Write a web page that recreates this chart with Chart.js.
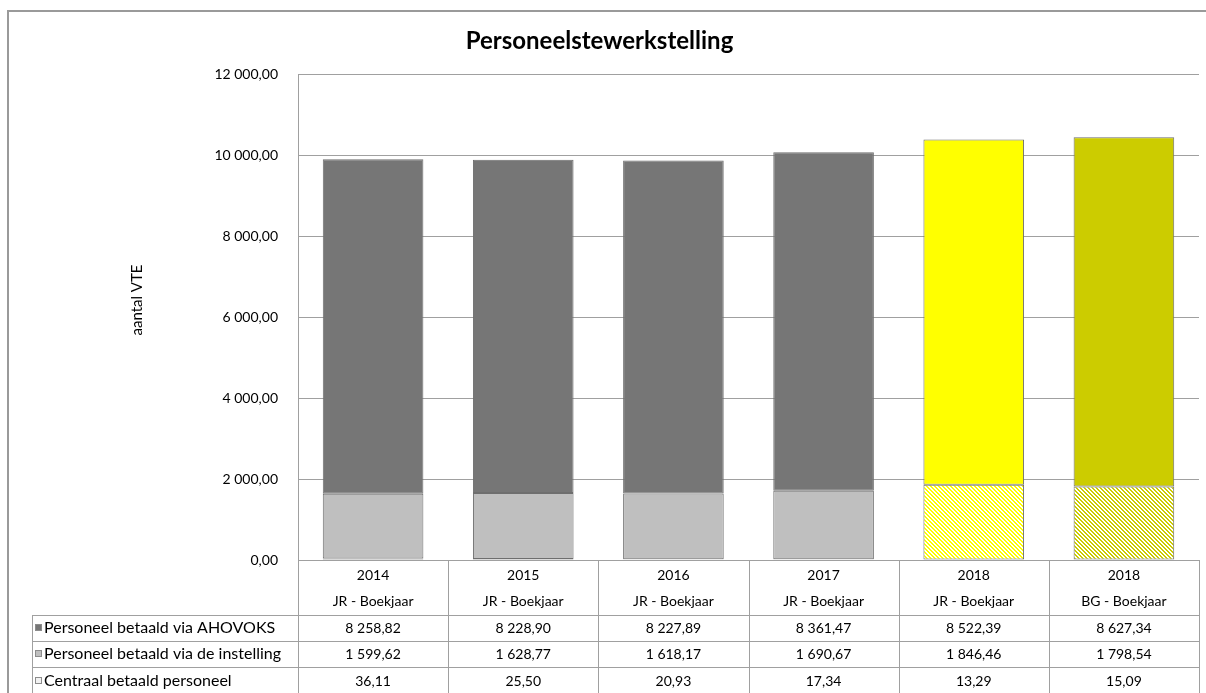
<!DOCTYPE html>
<html>
<head>
<meta charset="utf-8">
<script src="https://cdn.jsdelivr.net/npm/chart.js@4.4.1/dist/chart.umd.min.js"></script>
<style>
    html, body { margin: 0; padding: 0; background: #fff; }
    #wrap { width: 1206px; height: 693px; position: relative; }
</style>
</head>
<body>
<div id="wrap"><canvas id="chart" width="1206" height="693"></canvas></div>
<script>
// 数据
const years = ['2014', '2015', '2016', '2017', '2018', '2018'];
const boekjaren = ['JR - Boekjaar', 'JR - Boekjaar', 'JR - Boekjaar', 'JR - Boekjaar', 'JR - Boekjaar', 'BG - Boekjaar'];
const seriesNames = ['Personeel betaald via AHOVOKS', 'Personeel betaald via de instelling', 'Centraal betaald personeel'];
const ahovoks = [8258.82, 8228.90, 8227.89, 8361.47, 8522.39, 8627.34];
const instelling = [1599.62, 1628.77, 1618.17, 1690.67, 1846.46, 1798.54];
const centraal = [36.11, 25.50, 20.93, 17.34, 13.29, 15.09];
const yTicks = [0, 2000, 4000, 6000, 8000, 10000, 12000];

const FONT = 'Lato';
const LINE = '#A0A0A0';

// 格式化数字 (8 258,82)
function fmt(v) {
    const parts = v.toFixed(2).split('.');
    return parts[0].replace(/\B(?=(\d{3})+(?!\d))/g, ' ') + ',' + parts[1];
}

const canvas = document.getElementById('chart');
const mainCtx = canvas.getContext('2d');

// 斜线填充
function hatch(color) {
    const c = document.createElement('canvas');
    c.width = 4; c.height = 4;
    const g = c.getContext('2d');
    g.fillStyle = '#fff';
    g.fillRect(0, 0, 4, 4);
    g.fillStyle = color;
    for (let y = 0; y < 4; y++) {
        for (let x = 0; x < 4; x++) {
            if ((((x - y) % 4) + 4) % 4 < 2) g.fillRect(x, y, 1, 1);
        }
    }
    return mainCtx.createPattern(c, 'repeat');
}

const ahovoksColors = ['#767676', '#767676', '#767676', '#767676', '#FFFF00', '#CCCC00'];
const instellingColors = ['#BFBFBF', '#BFBFBF', '#BFBFBF', '#BFBFBF', hatch('#FFFF00'), hatch('#CCCC00')];
const centraalColors = ['#F2F2F2', '#F2F2F2', '#F2F2F2', '#F2F2F2', '#FFFFCC', '#F0F0B0'];
const legendColors = ['#767676', '#BFBFBF', '#F2F2F2'];

// 表格、轴标题和外框
const tablePlugin = {
    id: 'dataTable',
    afterDraw(chart) {
        const ctx = chart.ctx;
        const area = chart.chartArea;
        const colW = (area.right - area.left) / years.length;
        const top = area.bottom;
        const rowLines = [615, 641, 667];
        const rowText = [628, 654, 681];
        const rows = [ahovoks, instelling, centraal];

        ctx.save();
        ctx.strokeStyle = LINE;
        ctx.lineWidth = 1;
        ctx.beginPath();
        for (let i = 0; i <= years.length; i++) {
            const x = Math.round(area.left + i * colW) + 0.5;
            ctx.moveTo(x, top);
            ctx.lineTo(x, 693);
        }
        ctx.moveTo(32.5, rowLines[0]);
        ctx.lineTo(32.5, 693);
        rowLines.forEach(y => {
            ctx.moveTo(32, y + 0.5);
            ctx.lineTo(Math.round(area.right) + 1, y + 0.5);
        });
        ctx.stroke();

        ctx.fillStyle = '#000';
        ctx.font = '14px ' + FONT;
        ctx.textAlign = 'center';
        ctx.textBaseline = 'middle';
        years.forEach((yr, i) => {
            const cx = area.left + (i + 0.5) * colW;
            ctx.fillText(yr, cx, 575);
            ctx.fillText(boekjaren[i], cx, 601);
            rows.forEach((r, j) => ctx.fillText(fmt(r[i]), cx, rowText[j]));
        });

        ctx.textAlign = 'left';
        ctx.font = '16px ' + FONT;
        seriesNames.forEach((name, j) => {
            ctx.fillStyle = legendColors[j];
            ctx.fillRect(35, rowText[j] - 4, 7, 7);
            ctx.strokeStyle = '#8C8C8C';
            ctx.strokeRect(35.5, rowText[j] - 3.5, 6, 6);
            ctx.fillStyle = '#000';
            ctx.fillText(name, 44, rowText[j]);
        });

        // y 轴标题
        ctx.save();
        ctx.translate(137, 300);
        ctx.rotate(-Math.PI / 2);
        ctx.textAlign = 'center';
        ctx.font = '15px ' + FONT;
        ctx.fillStyle = '#000';
        ctx.fillText('aantal VTE', 0, 0);
        ctx.restore();

        // 外框
        ctx.strokeStyle = '#9A9A9A';
        ctx.lineWidth = 2;
        ctx.strokeRect(8, 11, 1400, 900);
        ctx.restore();
    }
};

new Chart(canvas, {
    type: 'bar',
    data: {
        labels: years.map((y, i) => y + ' ' + boekjaren[i]),
        datasets: [
            { label: seriesNames[2], data: centraal, backgroundColor: centraalColors },
            { label: seriesNames[1], data: instelling, backgroundColor: instellingColors },
            { label: seriesNames[0], data: ahovoks, backgroundColor: ahovoksColors }
        ].map(ds => Object.assign(ds, {
            borderColor: '#6E6E6E',
            borderWidth: 1,
            borderSkipped: false,
            categoryPercentage: 1,
            barPercentage: 0.67
        }))
    },
    options: {
        responsive: false,
        animation: false,
        layout: { padding: { left: 0, right: 7, top: 0, bottom: 0 } },
        plugins: {
            legend: { display: false },
            tooltip: { enabled: false },
            title: {
                display: true,
                text: 'Personeelstewerkstelling',
                color: '#000',
                font: { family: FONT, size: 24, weight: 'bold' },
                padding: { top: 27, bottom: 18.2 }
            }
        },
        scales: {
            x: {
                stacked: true,
                ticks: { display: false },
                grid: { display: false, drawTicks: false },
                border: { display: true, color: LINE },
                afterFit(s) { s.height = 133; }
            },
            y: {
                stacked: true,
                min: 0,
                max: 12000,
                afterBuildTicks(s) { s.ticks = yTicks.map(v => ({ value: v })); },
                ticks: {
                    padding: 20,
                    color: '#000',
                    font: { family: FONT, size: 14 },
                    callback: v => fmt(v)
                },
                grid: { color: LINE, drawTicks: false },
                border: { display: true, color: LINE },
                afterFit(s) { s.width = 298; }
            }
        }
    },
    plugins: [tablePlugin]
});
</script>
</body>
</html>
